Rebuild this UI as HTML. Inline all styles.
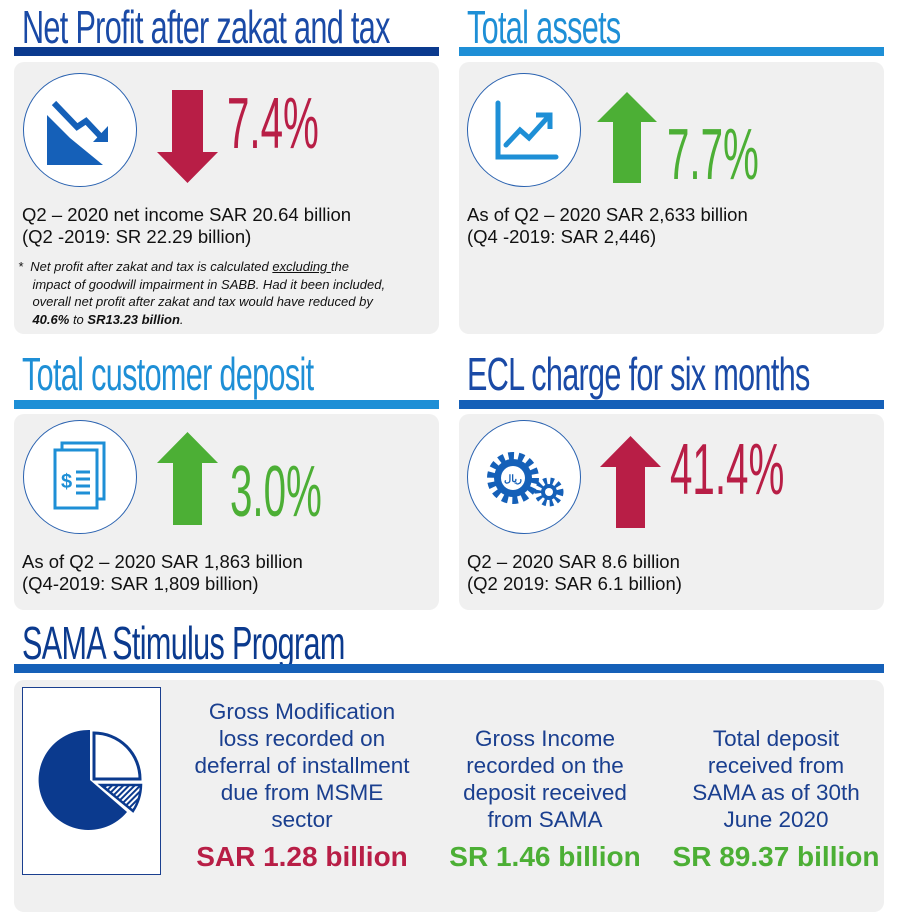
<!DOCTYPE html>
<html><head><meta charset="utf-8"><style>
body{margin:0;width:900px;height:917px;background:#fff;position:relative;overflow:hidden;font-family:"Liberation Sans",sans-serif}
.a{position:absolute}
.t{position:absolute;font-family:"Liberation Sans Narrow","Liberation Sans",sans-serif;font-size:46px;transform-origin:0 0;transform:scaleX(.665);white-space:nowrap;letter-spacing:-1px}
.bar{position:absolute;height:9px}
.box{position:absolute;background:#f0f0f0;border-radius:10px}
.c{position:absolute;width:112px;height:112px;border:1.5px solid #2a62b0;border-radius:50%;background:#fff}
.p{position:absolute;font-family:"Liberation Sans Narrow","Liberation Sans",sans-serif;font-size:72px;transform-origin:0 0;transform:scaleX(.56);white-space:nowrap;line-height:1}
.tx{position:absolute;font-size:18.5px;line-height:22px;color:#111;white-space:nowrap}
.col{position:absolute;text-align:center;font-size:22.5px;line-height:27px;color:#1a3f8f;white-space:nowrap}
.v{position:absolute;text-align:center;font-size:28px;font-weight:bold;white-space:nowrap}
</style></head><body>
<div class="t" style="left:22px;top:0px;color:#1a4aa6">Net Profit after zakat and tax</div>
<div class="bar" style="left:14px;top:47px;width:425px;background:#0b3a8e"></div>
<div class="box" style="left:14px;top:62px;width:425px;height:272px"></div>
<div class="c" style="left:23px;top:73px"></div>
<svg class="a" style="left:40px;top:95px" width="80" height="70"><polygon points="7,20 7,70 63,70 30,43 " fill="#1560b8"/><polyline points="14,8 37,32 46,26 62,43" stroke="#1560b8" stroke-width="6" fill="none"/><polygon points="53,47 68,47 68,31" fill="#1560b8"/></svg>
<svg class="a" style="left:157px;top:90px" width="62" height="94"><polygon points="15,0 46,0 46,62 61,62 30.5,93 0,62 15,62" fill="#b81e46"/></svg>
<div class="p" style="left:227px;top:88px;color:#b81e46">7.4%</div>
<div class="tx" style="left:22px;top:204px">Q2 – 2020 net income SAR 20.64 billion<br>(Q2 -2019: SR 22.29 billion)</div>
<div class="a" style="left:18px;top:258px;font-size:13px;line-height:17.5px;font-style:italic;color:#111;white-space:nowrap">*&nbsp; Net profit after zakat and tax is calculated <u>excluding </u>the<br>&nbsp;&nbsp;&nbsp;&nbsp;impact of goodwill impairment in SABB. Had it been included,<br>&nbsp;&nbsp;&nbsp;&nbsp;overall net profit after zakat and tax would have reduced by<br>&nbsp;&nbsp;&nbsp;&nbsp;<b>40.6%</b> to <b>SR13.23 billion</b>.</div>

<div class="t" style="left:467px;top:0px;color:#1e8fd6">Total assets</div>
<div class="bar" style="left:459px;top:47px;width:425px;background:#1e8fd6"></div>
<div class="box" style="left:459px;top:62px;width:425px;height:272px"></div>
<div class="c" style="left:467px;top:73px"></div>
<svg class="a" style="left:490px;top:100px" width="70" height="62"><path d="M8,3 V57 H66" stroke="#1e8fd6" stroke-width="5" fill="none" stroke-linecap="round"/><polyline points="16,45 30,30 39,38 58,17" stroke="#1e8fd6" stroke-width="5" fill="none" stroke-linecap="round"/><polyline points="46,15 60,15 60,29" stroke="#1e8fd6" stroke-width="5" fill="none"/></svg>
<svg class="a" style="left:597px;top:92px" width="60" height="92"><polygon points="30,0 60,30 44,30 44,91 16,91 16,30 0,30" fill="#4caf35"/></svg>
<div class="p" style="left:667px;top:119px;color:#4caf35">7.7%</div>
<div class="tx" style="left:467px;top:204px">As of Q2 – 2020 SAR 2,633 billion<br>(Q4 -2019: SAR 2,446)</div>

<div class="t" style="left:22px;top:347px;color:#1e8fd6">Total customer deposit</div>
<div class="bar" style="left:14px;top:400px;width:425px;background:#1e8fd6"></div>
<div class="box" style="left:14px;top:414px;width:425px;height:196px"></div>
<div class="c" style="left:23px;top:420px"></div>
<svg class="a" style="left:52px;top:440px" width="56" height="72"><rect x="10" y="3" width="42" height="56" fill="#fff" stroke="#1e8fd6" stroke-width="3"/><rect x="3" y="10" width="42" height="58" fill="#fff" stroke="#1e8fd6" stroke-width="3"/><text x="9" y="48" font-size="20" font-weight="bold" fill="#1e8fd6" font-family="Liberation Sans">$</text><path d="M24,32h14M24,39h14M24,46h14M24,53h14" stroke="#1e8fd6" stroke-width="3"/></svg>
<svg class="a" style="left:157px;top:432px" width="61" height="94"><polygon points="30.5,0 61,31 45,31 45,93 16,93 16,31 0,31" fill="#4caf35"/></svg>
<div class="p" style="left:230px;top:456px;color:#4caf35">3.0%</div>
<div class="tx" style="left:22px;top:551px">As of Q2 – 2020 SAR 1,863 billion<br>(Q4-2019: SAR 1,809 billion)</div>

<div class="t" style="left:467px;top:347px;color:#1a4aa6">ECL charge for six months</div>
<div class="bar" style="left:459px;top:400px;width:425px;background:#1560b8"></div>
<div class="box" style="left:459px;top:414px;width:425px;height:196px"></div>
<div class="c" style="left:467px;top:420px"></div>
<svg class="a" style="left:483px;top:450px" width="85" height="60"><circle cx="30" cy="28" r="20" fill="none" stroke="#1560b8" stroke-width="12" stroke-dasharray="5 4"/><circle cx="30" cy="28" r="19" fill="#1560b8"/><circle cx="30" cy="28" r="12" fill="#fff"/><text x="21" y="32" font-size="10" fill="#1560b8" font-weight="bold">ريال</text><circle cx="66" cy="42" r="10" fill="none" stroke="#1560b8" stroke-width="9" stroke-dasharray="3 3"/><circle cx="66" cy="42" r="8" fill="#1560b8"/><circle cx="66" cy="42" r="4" fill="#fff"/></svg>
<svg class="a" style="left:600px;top:436px" width="61" height="93"><polygon points="30.5,0 61,31 45,31 45,92 16,92 16,31 0,31" fill="#b81e46"/></svg>
<div class="p" style="left:670px;top:434px;color:#b81e46">41.4%</div>
<div class="tx" style="left:467px;top:551px">Q2 – 2020 SAR 8.6 billion<br>(Q2 2019: SAR 6.1 billion)</div>

<div class="t" style="left:22px;top:616px;color:#0b3a8e">SAMA Stimulus Program</div>
<div class="bar" style="left:14px;top:664px;width:870px;background:#1560b8"></div>
<div class="box" style="left:14px;top:680px;width:870px;height:232px"></div>
<div class="a" style="left:22px;top:687px;width:137px;height:186px;background:#fff;border:1.5px solid #1a3f8f"></div>
<svg class="a" style="left:38px;top:728px" width="110" height="105"><defs><pattern id="h" width="4" height="4" patternUnits="userSpaceOnUse" patternTransform="rotate(45)"><rect width="2" height="4" fill="#0b3a8e"/></pattern></defs><path d="M52,2 V52 L89,84 A50,50 0 1 1 52,2Z" fill="#0b3a8e"/><path d="M56,5 A46,46 0 0 1 102,51 H56Z" fill="#fff" stroke="#0b3a8e" stroke-width="3"/><path d="M63,57 H103 A50,50 0 0 1 95,83Z" fill="url(#h)" stroke="#0b3a8e" stroke-width="2.5"/></svg>
<div class="col" style="left:182px;width:240px;top:698px">Gross Modification<br>loss recorded on<br>deferral of installment<br>due from MSME<br>sector</div>
<div class="v" style="left:182px;width:240px;top:841px;color:#b81e46">SAR 1.28 billion</div>
<div class="col" style="left:425px;width:240px;top:725px">Gross Income<br>recorded on the<br>deposit received<br>from SAMA</div>
<div class="v" style="left:425px;width:240px;top:841px;color:#4caf35">SR 1.46 billion</div>
<div class="col" style="left:656px;width:240px;top:725px">Total deposit<br>received from<br>SAMA as of 30th<br>June 2020</div>
<div class="v" style="left:656px;width:240px;top:841px;color:#4caf35">SR 89.37 billion</div>
</body></html>
